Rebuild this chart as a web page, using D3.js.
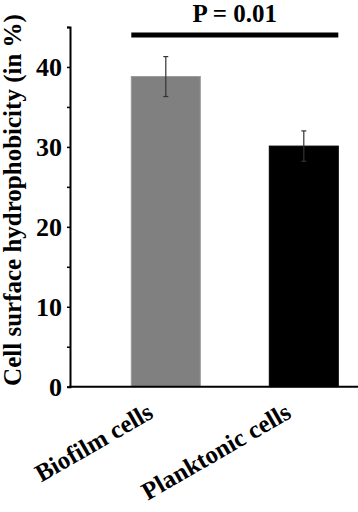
<!DOCTYPE html>
<html>
<head>
<meta charset="utf-8">
<script src="https://cdn.jsdelivr.net/npm/d3@7"></script>
<style>
  body { margin: 0; background: #fff; }
  text { font-family: "Liberation Serif", "DejaVu Serif", serif; font-weight: bold; }
</style>
</head>
<body>
<div id="chart"></div>
<script>
// data
const categories = ['Biofilm cells', 'Planktonic cells'];
const values = [38.8, 30.1];
const errors = [2.5, 1.9];
const barColors = ['#808080', '#000000'];
const yTicks = [0, 5, 10, 15, 20, 25, 30, 35, 40, 45];
const pLabel = 'P = 0.01';

const width = 358, height = 512;
const axisX = 70;

const svg = d3.select('#chart')
    .append('svg')
    .attr('width', width)
    .attr('height', height);

const y = d3.scaleLinear()
    .domain([0, 45])
    .range([386.7, 27]);

const x = d3.scaleBand()
    .domain(categories)
    .range([62.3, 407.3])
    .paddingInner(0.5)
    .paddingOuter(0.5);

// y axis
const yAxis = svg.append('g')
    .attr('transform', `translate(${axisX},0)`)
    .call(d3.axisLeft(y)
        .tickValues(yTicks)
        .tickSize(3)
        .tickPadding(5)
        .tickFormat(d => (d % 10 === 0 && d < 45) ? d : ''));
yAxis.select('.domain').attr('stroke', '#000').attr('stroke-width', 2);
yAxis.selectAll('.tick line').attr('stroke', '#000').attr('stroke-width', 1.5);
yAxis.selectAll('.tick text')
    .attr('font-size', 26)
    .attr('font-family', '"Liberation Serif", serif')
    .attr('font-weight', 'bold')
    .attr('fill', '#000');

// bars
svg.selectAll('rect.bar')
    .data(categories)
    .enter()
    .append('rect')
    .attr('class', 'bar')
    .attr('x', d => x(d))
    .attr('width', x.bandwidth())
    .attr('y', (d, i) => y(values[i]))
    .attr('height', (d, i) => y(0) - y(values[i]))
    .attr('fill', (d, i) => barColors[i])
    .attr('stroke', (d, i) => i === 0 ? '#999' : '#000')
    .attr('stroke-width', 1);

// error bars
const err = svg.selectAll('g.err')
    .data(categories)
    .enter()
    .append('g')
    .attr('class', 'err')
    .attr('stroke', '#333')
    .attr('stroke-width', 1.2);
err.append('line')
    .attr('x1', d => x(d) + x.bandwidth() / 2)
    .attr('x2', d => x(d) + x.bandwidth() / 2)
    .attr('y1', (d, i) => y(values[i] + errors[i]))
    .attr('y2', (d, i) => y(values[i] - errors[i]));
[1, -1].forEach(s => {
    err.append('line')
        .attr('x1', d => x(d) + x.bandwidth() / 2 - 2.5)
        .attr('x2', d => x(d) + x.bandwidth() / 2 + 2.5)
        .attr('y1', (d, i) => y(values[i] + s * errors[i]))
        .attr('y2', (d, i) => y(values[i] + s * errors[i]));
});

// x axis line
svg.append('line')
    .attr('x1', axisX - 1)
    .attr('x2', width)
    .attr('y1', y(0))
    .attr('y2', y(0))
    .attr('stroke', '#000')
    .attr('stroke-width', 2);

// x labels
svg.selectAll('text.xlab')
    .data(categories)
    .enter()
    .append('text')
    .attr('class', 'xlab')
    .attr('text-anchor', 'end')
    .attr('font-size', 25)
    .attr('transform', d => `translate(${x(d) + x.bandwidth() / 2 - 11},417) rotate(-30)`)
    .text(d => d);

// y label
svg.append('text')
    .attr('text-anchor', 'middle')
    .attr('font-size', 25)
    .attr('transform', 'translate(21,200) rotate(-90)')
    .text('Cell surface hydrophobicity (in %)');

// significance bracket
const x1 = x(categories[0]);
const x2 = x(categories[1]) + x.bandwidth();
svg.append('line')
    .attr('x1', x1)
    .attr('x2', x2)
    .attr('y1', 35)
    .attr('y2', 35)
    .attr('stroke', '#000')
    .attr('stroke-width', 5);
svg.append('text')
    .attr('text-anchor', 'middle')
    .attr('x', (x1 + x2) / 2)
    .attr('y', 22)
    .attr('font-size', 25)
    .text(pLabel);
</script>
</body>
</html>
